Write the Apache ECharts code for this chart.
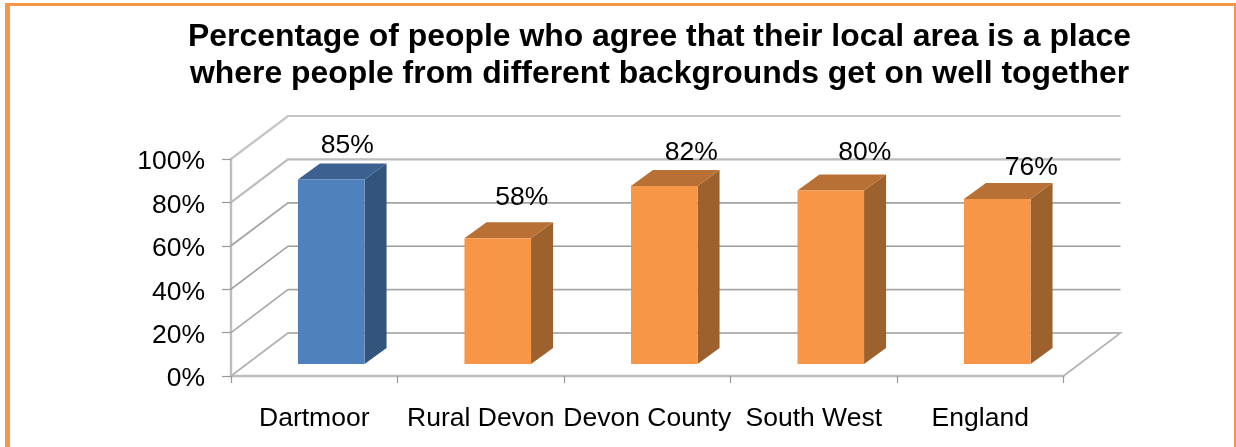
<!DOCTYPE html>
<html>
<head>
<meta charset="utf-8">
<style>html,body{margin:0;padding:0;background:#fff}#chart{width:1236px;height:447px}</style>
<script src="https://cdn.jsdelivr.net/npm/echarts@6/dist/echarts.min.js"></script>
</head>
<body>
<div id="chart"></div>
<script>
const titleLines = [
  'Percentage of people who agree that their local area is a place',
  'where people from different backgrounds get on well together'
];
const categories = ['Dartmoor', 'Rural Devon', 'Devon County', 'South West', 'England'];
const agreePercent = [85, 58, 82, 80, 76];
const yTicks = [0, 20, 40, 60, 80, 100];

// Fake-3D projection of the plot box, in pixels.
const WALL_DX = 57, WALL_DY = 43;
const BAR_SHIFT_X = 17, BAR_SHIFT_Y = 12, BAR_DX = 22, BAR_DY = 16;
const BAR_WIDTH_RATIO = 0.4;
const AXIS_COLOR = '#bdbdbd';
const TICK_COLOR = '#999';
const FONT = '"Liberation Sans", Arial, sans-serif';

// Wall lines, keyed by tick value: the upper ones read lighter and wider.
const wallLineColor = { 0: '#b4b4b4', 20: '#a8a8a8', 40: '#9c9c9c', 60: '#a4a4a4', 80: '#bcbcbc', 100: '#c4c4c4' };
const wallLineWidth = { 0: 1.8, 20: 1.6, 40: 1.6, 60: 1.8, 80: 2.2, 100: 2.2 };

const blueFaces = { front: '#4f81bd', side: '#32547d', top: '#3c6190' };
const orangeFaces = { front: '#f79646', side: '#9c612c', top: '#b87034' };
const barFaces = [blueFaces, orangeFaces, orangeFaces, orangeFaces, orangeFaces];
// Hand-placed value labels: offset from the bar's band centre and front top edge.
const labelOffsetX = [33, 41, 44, 51, 51];
const labelOffsetY = [-34, -40, -33, -38, -31];

function renderWall(params, api) {
  const cs = params.coordSys;
  const tick = api.value(0);
  const y = api.coord([0, tick])[1];
  const left = cs.x, right = cs.x + cs.width;
  const points = [[left, y], [left + WALL_DX, y - WALL_DY], [right + WALL_DX, y - WALL_DY]];
  if (tick === 0) points.push([right, y]);
  return {
    type: 'polyline',
    shape: { points },
    style: { fill: null, stroke: wallLineColor[tick], lineWidth: wallLineWidth[tick] }
  };
}

function renderBar(params, api) {
  const i = api.value(0), v = api.value(1);
  const c = api.coord([i, v]), base = api.coord([i, 0]);
  const w = api.size([1, 0])[0] * BAR_WIDTH_RATIO;
  const x0 = c[0] + BAR_SHIFT_X - w / 2, x1 = x0 + w;
  const yTop = c[1] - BAR_SHIFT_Y, yBot = base[1] - BAR_SHIFT_Y;
  const faces = barFaces[i];
  const poly = (pts, fill) => ({ type: 'polygon', shape: { points: pts }, style: { fill } });
  return {
    type: 'group',
    children: [
      poly([[x1, yTop], [x1 + BAR_DX, yTop - BAR_DY], [x1 + BAR_DX, yBot - BAR_DY], [x1, yBot]], faces.side),
      poly([[x0, yTop], [x0 + BAR_DX, yTop - BAR_DY], [x1 + BAR_DX, yTop - BAR_DY], [x1, yTop]], faces.top),
      poly([[x0, yTop], [x1, yTop], [x1, yBot], [x0, yBot]], faces.front),
      {
        type: 'text',
        style: {
          text: v + '%',
          x: c[0] + labelOffsetX[i],
          y: yTop + labelOffsetY[i],
          align: 'center',
          verticalAlign: 'middle',
          fill: '#000',
          font: '26.5px ' + FONT
        }
      }
    ]
  };
}

const chart = echarts.init(document.getElementById('chart'), null, { renderer: 'canvas' });
chart.setOption({
  animation: false,
  backgroundColor: '#fff',
  title: {
    text: titleLines.join('\n'),
    left: 654.5,
    top: 14,
    textAlign: 'center',
    textStyle: { fontFamily: FONT, fontWeight: 'bold', fontSize: 31.9, lineHeight: 36.5, color: '#000' }
  },
  grid: { left: 231, right: 172.5, top: 159, bottom: 71 },
  xAxis: {
    type: 'category',
    data: categories,
    axisLine: { lineStyle: { color: AXIS_COLOR, width: 2.4 } },
    axisTick: { show: true, alignWithLabel: false, length: 7, lineStyle: { color: TICK_COLOR, width: 1.2 } },
    axisLabel: { interval: 0, hideOverlap: false, color: '#000', fontFamily: FONT, fontSize: 26.5, margin: 29 }
  },
  yAxis: {
    type: 'value',
    min: 0,
    max: 100,
    interval: 20,
    axisLine: { show: true, lineStyle: { color: AXIS_COLOR, width: 2.4 } },
    axisTick: { show: true, length: 9, lineStyle: { color: TICK_COLOR, width: 1.2 } },
    splitLine: { show: false },
    axisLabel: {
      color: '#000', fontFamily: FONT, fontSize: 26.5, margin: 26,
      verticalAlign: 'top', lineHeight: 6, formatter: '{value}%'
    }
  },
  series: [
    {
      type: 'custom',
      z: 1,
      silent: true,
      renderItem: renderWall,
      encode: { y: 0 },
      data: yTicks.map(t => [t])
    },
    {
      type: 'custom',
      z: 3,
      silent: true,
      renderItem: renderBar,
      encode: { x: 0, y: 1 },
      data: agreePercent.map((v, i) => [i, v])
    }
  ],
  graphic: [
    // Orange frame: left, top and right edges only.
    { type: 'rect', shape: { x: 5, y: 3, width: 5, height: 444 }, style: { fill: '#f79646' } },
    { type: 'rect', shape: { x: 5, y: 3, width: 1231, height: 3 }, style: { fill: '#f79646' } },
    { type: 'rect', shape: { x: 1234, y: 3, width: 2, height: 444 }, style: { fill: '#f79646' } }
  ]
});
</script>
</body>
</html>
